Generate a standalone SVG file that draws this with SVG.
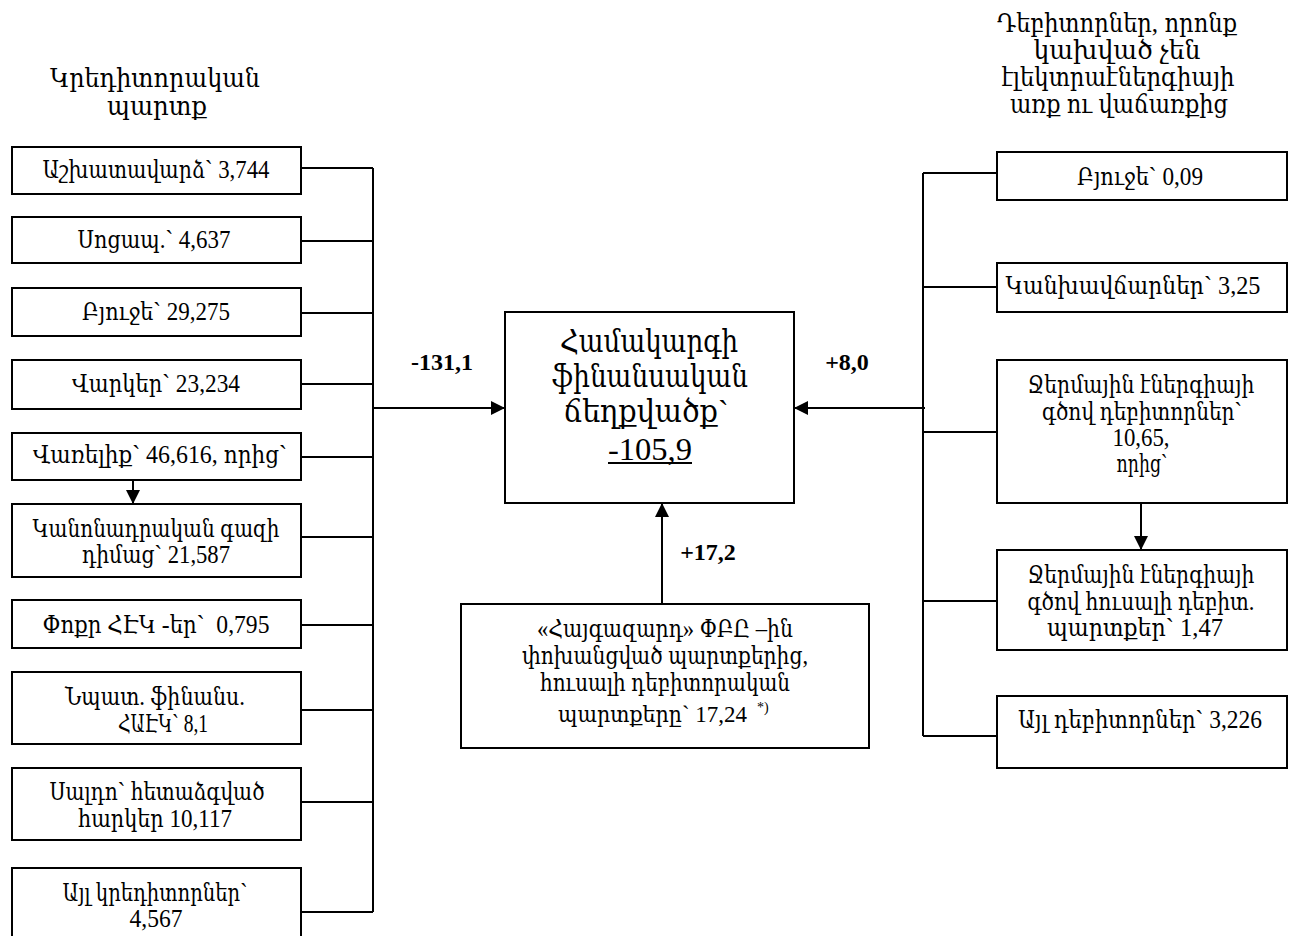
<svg xmlns="http://www.w3.org/2000/svg" width="1292" height="936" viewBox="0 0 1292 936">
<defs>
<style>
.box{fill:#fff;stroke:#000;stroke-width:2}
.ln{fill:none;stroke:#000;stroke-width:2}
text{font-family:"Liberation Serif","DejaVu Serif Condensed","DejaVu Serif",serif;fill:#000;text-anchor:middle}
.t{font-size:25px}
.h{font-size:26px}
.c{font-size:32px}
.b{font-size:24px;font-weight:bold}
.s{font-size:14px}
</style>
<marker id="arr" markerUnits="userSpaceOnUse" markerWidth="14" markerHeight="14" refX="14" refY="7" orient="auto">
<path d="M0,0 L14,7 L0,14 Z" fill="#000"/>
</marker>
</defs>
<rect width="1292" height="936" fill="#fff"/>

<g id="header-left">
<text class="h" x="155" y="87" textLength="210" lengthAdjust="spacingAndGlyphs">Կրեդիտորական</text>
<text class="h" x="157" y="115" textLength="100" lengthAdjust="spacingAndGlyphs">պարտք</text>
</g>
<g id="header-right">
<text class="h" x="1117" y="32" textLength="240" lengthAdjust="spacingAndGlyphs">Դեբիտորներ, որոնք</text>
<text class="h" x="1117" y="59" textLength="167" lengthAdjust="spacingAndGlyphs">կախված չեն</text>
<text class="h" x="1118" y="86" textLength="233" lengthAdjust="spacingAndGlyphs">էլեկտրաէներգիայի</text>
<text class="h" x="1119" y="113" textLength="218" lengthAdjust="spacingAndGlyphs">առք ու վաճառքից</text>
</g>

<g id="connectors">
<path class="ln" d="M373,168 V912"/>
<path class="ln" d="M301,168 H373 M301,241 H373 M301,313 H373 M301,384 H373 M301,457 H373 M301,537 H373 M301,625 H373 M301,710 H373 M301,802 H373 M301,912 H373"/>
<path class="ln" d="M373,408 H505" marker-end="url(#arr)"/>
<path class="ln" d="M133,480 V504" marker-end="url(#arr)"/>
<path class="ln" d="M923,173 V736"/>
<path class="ln" d="M923,173 H997 M923,287 H997 M923,432 H997 M923,601 H997 M923,736 H997"/>
<path class="ln" d="M925,408 H794" marker-end="url(#arr)"/>
<path class="ln" d="M1141,503 V550" marker-end="url(#arr)"/>
<path class="ln" d="M662,604 V503" marker-end="url(#arr)"/>
</g>

<g id="labels">
<text class="b" x="442" y="370">-131,1</text>
<text class="b" x="847" y="370">+8,0</text>
<text class="b" x="708" y="560">+17,2</text>
</g>

<g id="center">
<rect class="box" x="505" y="312" width="289" height="191"/>
<text class="c" x="649" y="352" textLength="178" lengthAdjust="spacingAndGlyphs">Համակարգի</text>
<text class="c" x="650" y="387" textLength="196" lengthAdjust="spacingAndGlyphs">ֆինանսական</text>
<text class="c" x="646" y="422" textLength="165" lengthAdjust="spacingAndGlyphs">ճեղքվածք`</text>
<text class="c" x="650" y="460" textLength="84" lengthAdjust="spacingAndGlyphs">-105,9</text>
<path class="ln" d="M608,463 H692"/>
</g>

<g id="l1"><rect class="box" x="12" y="147" width="289" height="47"/><text class="t" x="156" y="178" textLength="227" lengthAdjust="spacingAndGlyphs">Աշխատավարձ` 3,744</text></g>
<g id="l2"><rect class="box" x="12" y="217" width="289" height="46"/><text class="t" x="154" y="248" textLength="153" lengthAdjust="spacingAndGlyphs">Սոցապ.` 4,637</text></g>
<g id="l3"><rect class="box" x="12" y="288" width="289" height="48"/><text class="t" x="156" y="320" textLength="148" lengthAdjust="spacingAndGlyphs">Բյուջե` 29,275</text></g>
<g id="l4"><rect class="box" x="12" y="360" width="289" height="49"/><text class="t" x="156" y="392" textLength="168" lengthAdjust="spacingAndGlyphs">Վարկեր` 23,234</text></g>
<g id="l5"><rect class="box" x="12" y="433" width="289" height="47"/><text class="t" x="160" y="463" textLength="254" lengthAdjust="spacingAndGlyphs">Վառելիք` 46,616, որից`</text></g>
<g id="l6"><rect class="box" x="12" y="504" width="289" height="73"/><text class="t" x="156" y="537" textLength="247" lengthAdjust="spacingAndGlyphs">Կանոնադրական գազի</text><text class="t" x="156" y="563" textLength="148" lengthAdjust="spacingAndGlyphs">դիմաց` 21,587</text></g>
<g id="l7"><rect class="box" x="12" y="600" width="289" height="48"/><text class="t" x="156" y="633" style="white-space:pre" textLength="227" lengthAdjust="spacingAndGlyphs">Փոքր ՀԷԿ -եր`  0,795</text></g>
<g id="l8"><rect class="box" x="12" y="672" width="289" height="72"/><text class="t" x="155" y="705" textLength="180" lengthAdjust="spacingAndGlyphs">Նպատ. ֆինանս.</text><text class="t" x="163" y="732" textLength="90" lengthAdjust="spacingAndGlyphs">ՀԱԷԿ` 8,1</text></g>
<g id="l9"><rect class="box" x="12" y="768" width="289" height="72"/><text class="t" x="157" y="800" textLength="215" lengthAdjust="spacingAndGlyphs">Սալդո` հետաձգված</text><text class="t" x="155" y="827" textLength="154" lengthAdjust="spacingAndGlyphs">հարկեր 10,117</text></g>
<g id="l10"><rect class="box" x="12" y="868" width="289" height="80"/><text class="t" x="155" y="901" textLength="185" lengthAdjust="spacingAndGlyphs">Այլ կրեդիտորներ`</text><text class="t" x="156" y="927" textLength="53" lengthAdjust="spacingAndGlyphs">4,567</text></g>

<g id="r1"><rect class="box" x="997" y="152" width="290" height="48"/><text class="t" x="1140" y="185" textLength="126" lengthAdjust="spacingAndGlyphs">Բյուջե` 0,09</text></g>
<g id="r2"><rect class="box" x="997" y="263" width="290" height="49"/><text class="t" x="1133" y="294" textLength="255" lengthAdjust="spacingAndGlyphs">Կանխավճարներ` 3,25</text></g>
<g id="r3"><rect class="box" x="997" y="360" width="290" height="143"/><text class="t" x="1141" y="393" textLength="227" lengthAdjust="spacingAndGlyphs">Ջերմային էներգիայի</text><text class="t" x="1142" y="420" textLength="200" lengthAdjust="spacingAndGlyphs">գծով դեբիտորներ`</text><text class="t" x="1141" y="446" textLength="57" lengthAdjust="spacingAndGlyphs">10,65,</text><text class="t" x="1142" y="472" textLength="51" lengthAdjust="spacingAndGlyphs">որից`</text></g>
<g id="r4"><rect class="box" x="997" y="550" width="290" height="100"/><text class="t" x="1141" y="583" textLength="227" lengthAdjust="spacingAndGlyphs">Ջերմային էներգիայի</text><text class="t" x="1141" y="610" textLength="227" lengthAdjust="spacingAndGlyphs">գծով հուսալի դեբիտ.</text><text class="t" x="1135" y="636" textLength="176" lengthAdjust="spacingAndGlyphs">պարտքեր` 1,47</text></g>
<g id="r5"><rect class="box" x="997" y="696" width="290" height="72"/><text class="t" x="1140" y="728" textLength="244" lengthAdjust="spacingAndGlyphs">Այլ դեբիտորներ` 3,226</text></g>

<g id="bottom">
<rect class="box" x="461" y="604" width="408" height="144"/>
<text class="t" x="665" y="637" textLength="256" lengthAdjust="spacingAndGlyphs">«Հայգազարդ» ՓԲԸ –ին</text>
<text class="t" x="665" y="664" textLength="286" lengthAdjust="spacingAndGlyphs">փոխանցված պարտքերից,</text>
<text class="t" x="665" y="691" textLength="250" lengthAdjust="spacingAndGlyphs">հուսալի դեբիտորական</text>
<text x="558" y="722" style="text-anchor:start;font-size:23px"><tspan textLength="189" lengthAdjust="spacingAndGlyphs">պարտքերը` 17,24</tspan><tspan class="s" x="757" y="712">*)</tspan></text>
</g>
</svg>
